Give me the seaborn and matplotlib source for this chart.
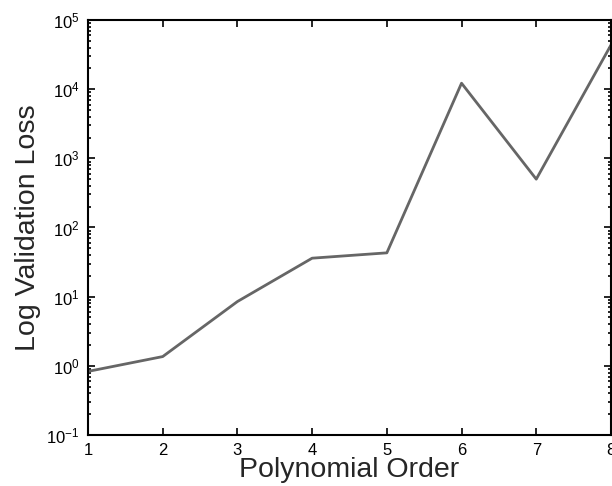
import numpy as np
import pandas as pd
import matplotlib
matplotlib.use('Agg')
import matplotlib.pyplot as plt
import seaborn as sns
from matplotlib.ticker import LogLocator, NullFormatter

# Values
orders = [1, 2, 3, 4, 5, 6, 7, 8]
val_loss = [0.83, 1.36, 8.5, 36, 43, 12200, 500, 43500]

data = pd.DataFrame({'order': orders, 'loss': val_loss})

sns.set_style('ticks')
plt.rcParams['font.family'] = ['Liberation Sans', 'DejaVu Sans']
plt.rcParams['mathtext.fontset'] = 'custom'
plt.rcParams['mathtext.rm'] = 'Liberation Sans'

fig = plt.figure(figsize=(6.12, 4.86), dpi=100)
ax = fig.add_axes([0.1438, 0.105, 0.8545, 0.8538])

sns.lineplot(x='order', y='loss', data=data, ax=ax, color='#666666', linewidth=2)

ax.set_yscale('log')
ax.set_xlim(1, 8)
ax.set_ylim(1e-1, 1e5)
ax.set_xticks(orders)
ax.yaxis.set_major_locator(LogLocator(base=10, numticks=10))
ax.yaxis.set_minor_locator(LogLocator(base=10, subs=np.arange(2, 10), numticks=10))
ax.yaxis.set_minor_formatter(NullFormatter())

for side in ['top', 'right', 'left', 'bottom']:
    ax.spines[side].set_visible(True)
    ax.spines[side].set_linewidth(1.5)
    ax.spines[side].set_color('black')

ax.tick_params(which='both', direction='in', top=True, right=True,
               labelsize=12, colors='black', width=1.2)
ax.tick_params(which='major', length=5, pad=6)
ax.tick_params(which='minor', length=2.5)

ax.set_xlabel('Polynomial Order', fontsize=20.5, labelpad=-1)
ax.set_ylabel('Log Validation Loss', fontsize=20.5, labelpad=4)

fig.savefig('out.png', dpi=100)
